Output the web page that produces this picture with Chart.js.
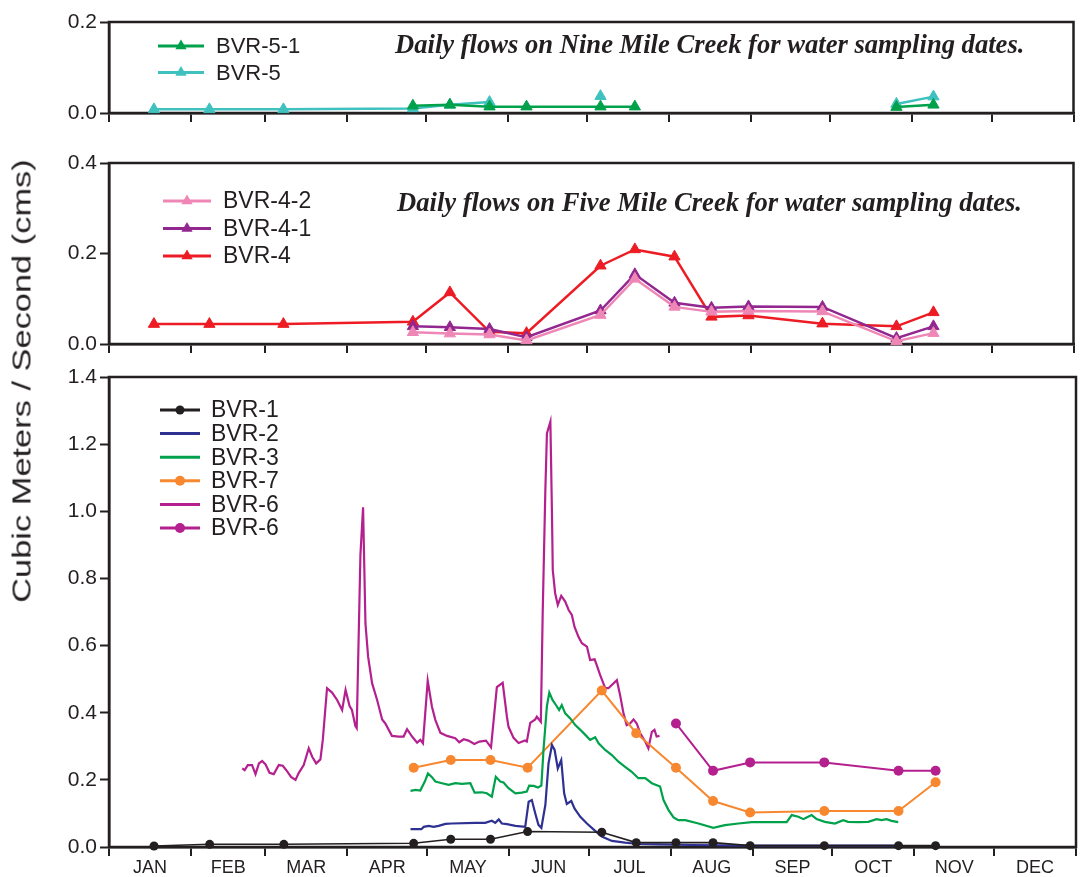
<!DOCTYPE html>
<html>
<head>
<meta charset="utf-8">
<script src="https://cdn.jsdelivr.net/npm/chart.js@4.4.1/dist/chart.umd.min.js"></script>
<style>
  body { margin: 0; background: #fff; width: 1081px; height: 877px; overflow: hidden; position: relative; font-family: "Liberation Sans", Arial, sans-serif; }
  canvas { position: absolute; left: 0; }
  #yTitle { position: absolute; left: 22px; top: 381px; font-size: 25px; color: #231f20; white-space: nowrap; }
</style>
</head>
<body>
<canvas id="nineMile" width="1081" height="140" style="top:0"></canvas>
<canvas id="fiveMile" width="1081" height="220" style="top:140px"></canvas>
<canvas id="mainCreek" width="1081" height="517" style="top:360px"></canvas>
<div id="yTitle">Cubic Meters / Second (cms)</div>
<script>
// month axis (day of year)
const months = ['JAN', 'FEB', 'MAR', 'APR', 'MAY', 'JUN', 'JUL', 'AUG', 'SEP', 'OCT', 'NOV', 'DEC'];
const monthStarts = [0, 31, 59, 90, 120, 151, 181, 212, 243, 273, 304, 334, 365];

// sampling dates, day of year
const sampleDays = [17, 38, 66, 115, 129, 144, 158, 186, 199, 214, 228, 242, 270, 298, 312];

// Nine Mile Creek
const bvr5_1 = [null, null, null, 0.016, 0.018, 0.014, 0.014, 0.014, 0.014, null, null, null, null, 0.013, 0.018];
const bvr5   = [0.008, 0.008, 0.008, 0.010, 0.018, 0.024, null, 0.037, null, null, null, null, null, 0.020, 0.036];

// Five Mile Creek
const bvr4_2 = [null, null, null, 0.026, 0.023, 0.021, 0.008, 0.064, 0.144, 0.082, 0.071, 0.073, 0.072, 0.006, 0.024];
const bvr4_1 = [null, null, null, 0.039, 0.037, 0.033, 0.015, 0.074, 0.154, 0.091, 0.080, 0.083, 0.082, 0.013, 0.039];
const bvr4   = [0.044, 0.044, 0.044, 0.049, 0.114, 0.027, 0.024, 0.173, 0.209, 0.193, 0.060, 0.063, 0.045, 0.039, 0.070];

// bottom panel, sampled
const bvr1  = [0.003, 0.008, 0.008, 0.011, 0.023, 0.023, 0.046, 0.044, 0.013, 0.013, 0.013, 0.004, 0.004, 0.004, 0.004];
const bvr7  = [null, null, null, 0.236, 0.259, 0.259, 0.236, 0.466, 0.339, 0.236, 0.137, 0.103, 0.107, 0.107, 0.193];
const bvr6s = [null, null, null, null, null, null, null, null, null, 0.368, 0.227, 0.252, 0.252, 0.227, 0.227];

// bottom panel, daily records
const bvr2Days = [113.8, 117.9, 118.8, 120.7, 122.5, 124.4, 127.0, 129.4, 138.3, 142.0, 144.5, 145.8, 147.1, 148.3, 150.2, 153.4, 157.1, 158.4, 159.6, 160.9, 162.1, 163.2, 164.7, 165.9, 167.2, 168.2, 169.4, 170.7, 171.8, 172.8, 174.5, 175.7, 177.9, 180.4, 183.5, 186.0, 189.8, 194.8, 199.8, 207.4, 219.9, 245.1, 270.2, 297.9];
const bvr2Flow = [0.053, 0.053, 0.060, 0.063, 0.060, 0.063, 0.069, 0.070, 0.072, 0.072, 0.078, 0.072, 0.082, 0.070, 0.068, 0.063, 0.060, 0.135, 0.140, 0.100, 0.066, 0.057, 0.125, 0.249, 0.304, 0.289, 0.234, 0.259, 0.160, 0.128, 0.137, 0.115, 0.090, 0.070, 0.048, 0.031, 0.018, 0.013, 0.009, 0.008, 0.006, 0.004, 0.004, 0.004];

const bvr3Days = [113.8, 115.7, 117.5, 119.2, 120.4, 121.9, 123.2, 125.7, 128.2, 130.7, 133.2, 136.4, 138.0, 140.8, 142.6, 144.5, 146.0, 147.7, 148.9, 150.8, 153.4, 155.8, 157.7, 158.6, 160.3, 161.9, 163.2, 164.0, 165.3, 166.2, 167.4, 168.7, 169.9, 170.9, 172.2, 174.1, 176.0, 177.9, 179.8, 181.6, 183.5, 184.8, 187.3, 189.8, 192.3, 194.8, 197.3, 199.8, 202.4, 204.9, 208.0, 209.3, 211.2, 213.1, 214.9, 217.5, 222.5, 228.1, 232.5, 237.6, 242.6, 247.6, 252.6, 255.8, 257.7, 260.2, 262.1, 263.3, 265.2, 267.1, 270.2, 274.0, 277.1, 279.0, 282.8, 286.6, 289.7, 291.6, 293.5, 295.4, 297.9];
const bvr3Flow = [0.167, 0.170, 0.168, 0.195, 0.219, 0.208, 0.195, 0.190, 0.185, 0.190, 0.188, 0.190, 0.162, 0.163, 0.160, 0.150, 0.209, 0.195, 0.192, 0.175, 0.160, 0.162, 0.165, 0.183, 0.182, 0.177, 0.183, 0.289, 0.420, 0.460, 0.438, 0.423, 0.408, 0.423, 0.398, 0.383, 0.363, 0.349, 0.334, 0.319, 0.327, 0.309, 0.289, 0.274, 0.254, 0.239, 0.224, 0.205, 0.205, 0.190, 0.180, 0.140, 0.110, 0.088, 0.080, 0.080, 0.070, 0.057, 0.065, 0.070, 0.074, 0.074, 0.074, 0.074, 0.095, 0.090, 0.083, 0.088, 0.095, 0.083, 0.075, 0.070, 0.080, 0.075, 0.074, 0.075, 0.083, 0.080, 0.083, 0.078, 0.074];

const bvr6Days = [50.3, 51.2, 52.4, 54.0, 55.3, 56.6, 57.8, 59.1, 60.6, 62.2, 64.1, 65.6, 67.2, 68.7, 70.4, 71.6, 73.5, 75.4, 76.7, 78.2, 79.8, 80.7, 82.3, 84.2, 86.1, 88.0, 89.3, 90.8, 91.7, 93.0, 93.5, 94.9, 95.9, 96.8, 97.8, 99.3, 101.2, 103.1, 104.3, 106.8, 109.4, 111.2, 112.5, 114.4, 116.3, 117.5, 118.5, 120.3, 121.9, 123.2, 125.1, 127.6, 130.7, 132.2, 133.9, 135.7, 137.9, 139.8, 142.3, 144.2, 146.4, 148.6, 150.2, 150.8, 152.7, 154.6, 157.0, 157.7, 159.0, 160.9, 161.5, 163.0, 163.7, 164.7, 165.3, 166.6, 167.2, 167.5, 168.4, 169.4, 170.7, 172.2, 173.5, 174.7, 175.7, 177.2, 178.5, 180.4, 181.6, 183.3, 184.1, 185.4, 187.3, 188.5, 191.7, 192.9, 194.2, 195.4, 196.7, 198.0, 199.2, 200.5, 202.4, 203.6, 204.9, 205.9, 206.7, 207.8];
const bvr6Flow = [0.234, 0.229, 0.244, 0.244, 0.217, 0.249, 0.256, 0.246, 0.221, 0.217, 0.244, 0.242, 0.226, 0.209, 0.200, 0.220, 0.244, 0.294, 0.269, 0.249, 0.261, 0.319, 0.473, 0.460, 0.438, 0.408, 0.468, 0.420, 0.408, 0.360, 0.354, 0.870, 1.012, 0.666, 0.567, 0.488, 0.438, 0.380, 0.368, 0.331, 0.329, 0.329, 0.351, 0.329, 0.311, 0.319, 0.309, 0.495, 0.418, 0.378, 0.340, 0.331, 0.324, 0.312, 0.321, 0.317, 0.307, 0.314, 0.317, 0.297, 0.476, 0.489, 0.388, 0.358, 0.325, 0.310, 0.317, 0.314, 0.370, 0.380, 0.388, 0.373, 0.696, 1.063, 1.232, 1.267, 0.994, 0.825, 0.756, 0.721, 0.748, 0.731, 0.706, 0.691, 0.656, 0.626, 0.607, 0.597, 0.557, 0.559, 0.542, 0.512, 0.473, 0.473, 0.497, 0.453, 0.398, 0.363, 0.368, 0.380, 0.368, 0.339, 0.314, 0.294, 0.343, 0.349, 0.329, 0.331];

const ink = '#231f20';
const sans = '"Liberation Sans", Arial, sans-serif';
const noteFont = 'italic bold 26.6px "Liberation Serif", "Times New Roman", serif';

const monthMids = months.map((m, i) => (monthStarts[i] + monthStarts[i + 1]) / 2);
const xTickValues = monthStarts.concat(monthMids).sort((a, b) => a - b);

const sampled = arr => sampleDays.map((d, i) => ({ x: d, y: arr[i] }));
const daily = (days, flow) => days.map((d, i) => ({ x: d, y: flow[i] }));

// box round the plot area
const frame = {
  id: 'frame',
  beforeDatasetsDraw(chart) {
    const a = chart.chartArea, ctx = chart.ctx;
    ctx.save();
    ctx.strokeStyle = ink;
    ctx.lineWidth = 2.5;
    ctx.strokeRect(a.left, a.top, a.right - a.left, a.bottom - a.top);
    ctx.restore();
  }
};

function drawMarker(ctx, style, x, y, r) {
  ctx.beginPath();
  if (style === 'triangle') {
    ctx.moveTo(x, y - r);
    ctx.lineTo(x + r * 0.866, y + r * 0.5);
    ctx.lineTo(x - r * 0.866, y + r * 0.5);
    ctx.closePath();
  } else {
    ctx.arc(x, y, r, 0, Math.PI * 2);
  }
  ctx.fill();
}

// legend stacked inside the plot, top left
const insideLegend = {
  id: 'insideLegend',
  afterDatasetsDraw(chart, args, opts) {
    const ctx = chart.ctx;
    ctx.save();
    ctx.font = opts.font;
    ctx.textBaseline = 'middle';
    chart.data.datasets.forEach((ds, i) => {
      const y = opts.y + i * opts.rowGap;
      ctx.strokeStyle = ds.borderColor;
      ctx.fillStyle = ds.borderColor;
      ctx.lineWidth = opts.lineWidth;
      ctx.beginPath();
      ctx.moveTo(opts.x, y);
      ctx.lineTo(opts.x + opts.len, y);
      ctx.stroke();
      if (ds.pointRadius > 0) drawMarker(ctx, ds.pointStyle, opts.x + opts.len / 2, y, ds.pointRadius);
      ctx.fillStyle = ink;
      ctx.fillText(ds.label, opts.textX, y + 1);
    });
    ctx.restore();
  }
};

// italic caption inside the plot
const panelNote = {
  id: 'panelNote',
  afterDatasetsDraw(chart, args, opts) {
    if (!opts.text) return;
    const ctx = chart.ctx;
    ctx.save();
    ctx.font = opts.font;
    ctx.fillStyle = ink;
    ctx.textBaseline = 'alphabetic';
    ctx.fillText(opts.text, opts.x, opts.y);
    ctx.restore();
  }
};

function panel(id, cfg) {
  return new Chart(document.getElementById(id), {
    type: 'line',
    data: { datasets: cfg.datasets },
    options: {
      responsive: false,
      animation: false,
      events: [],
      layout: { padding: { top: cfg.plotTop, right: 3, left: 0, bottom: 0 } },
      plugins: {
        legend: { display: false },
        tooltip: { enabled: false },
        insideLegend: cfg.legend,
        panelNote: cfg.note || {}
      },
      scales: {
        x: {
          type: 'linear',
          min: 0,
          max: 365,
          afterBuildTicks: s => { s.ticks = xTickValues.map(v => ({ value: v })); },
          afterFit: s => { s.height = cfg.axisHeight; },
          ticks: {
            display: cfg.showMonths,
            autoSkip: false,
            maxRotation: 0,
            padding: 1,
            color: ink,
            font: { family: sans, size: 18 },
            callback: v => { const k = monthMids.indexOf(v); return k >= 0 ? months[k] : ''; }
          },
          grid: {
            drawOnChartArea: false,
            tickLength: 9,
            tickWidth: 2,
            lineWidth: 2,
            tickColor: c => monthStarts.includes(c.tick && c.tick.value) ? ink : 'rgba(0,0,0,0)',
            color: 'rgba(0,0,0,0)'
          },
          border: { color: ink, width: 2.5 }
        },
        y: {
          min: 0,
          max: cfg.yMax,
          afterFit: s => { s.width = 109; },
          ticks: {
            stepSize: 0.2,
            padding: 3,
            color: ink,
            font: { family: sans, size: 21 },
            callback: v => v.toFixed(1)
          },
          grid: { drawOnChartArea: false, tickLength: 9, tickWidth: 2, tickColor: ink, color: ink },
          border: { color: ink, width: 2.5 }
        }
      }
    },
    plugins: [frame, insideLegend, panelNote]
  });
}

const tri = (label, color, arr) => ({
  label, data: sampled(arr), borderColor: color, backgroundColor: color,
  pointBackgroundColor: color, pointBorderColor: color, pointBorderWidth: 1,
  borderWidth: 2.5, pointStyle: 'triangle', pointRadius: 6.5, tension: 0, spanGaps: false, clip: false
});

panel('nineMile', {
  plotTop: 22, axisHeight: 27, yMax: 0.2, showMonths: false,
  legend: { x: 158, len: 46, textX: 216, y: 46, rowGap: 26.5, lineWidth: 3, font: '22px ' + sans },
  note: { text: 'Daily flows on Nine Mile Creek for water sampling dates.', x: 395, y: 53, font: noteFont },
  datasets: [
    tri('BVR-5-1', '#00a14b', bvr5_1),
    tri('BVR-5', '#3fc1bf', bvr5)
  ]
});

panel('fiveMile', {
  plotTop: 23, axisHeight: 16, yMax: 0.4, showMonths: false,
  legend: { x: 163, len: 48, textX: 223, y: 61, rowGap: 27.5, lineWidth: 3, font: '23px ' + sans },
  note: { text: 'Daily flows on Five Mile Creek for water sampling dates.', x: 397, y: 71, font: noteFont },
  datasets: [
    tri('BVR-4-2', '#ef87b6', bvr4_2),
    tri('BVR-4-1', '#92278f', bvr4_1),
    tri('BVR-4', '#ed1c24', bvr4)
  ]
});

const dots = (label, color, arr, r, w) => ({
  label, data: sampled(arr), borderColor: color, backgroundColor: color,
  pointBackgroundColor: color, pointBorderColor: color, pointBorderWidth: 0,
  borderWidth: w, pointStyle: 'circle', pointRadius: r, tension: 0, spanGaps: false, clip: false
});
const plain = (label, color, days, flow) => ({
  label, data: daily(days, flow), borderColor: color, backgroundColor: color,
  borderWidth: 2.2, pointRadius: 0, tension: 0, clip: false
});

panel('mainCreek', {
  plotTop: 17, axisHeight: 30, yMax: 1.4, showMonths: true,
  legend: { x: 160, len: 40, textX: 211, y: 50, rowGap: 23.6, lineWidth: 3, font: '23px ' + sans },
  datasets: [
    dots('BVR-1', '#231f20', bvr1, 4.5, 1.6),
    plain('BVR-2', '#2e3192', bvr2Days, bvr2Flow),
    plain('BVR-3', '#00a14b', bvr3Days, bvr3Flow),
    dots('BVR-7', '#f7882f', bvr7, 5, 2),
    plain('BVR-6', '#b4218f', bvr6Days, bvr6Flow),
    dots('BVR-6', '#b4218f', bvr6s, 5, 2)
  ]
});

// rotated shared axis title, stretched along its length like the original
const yt = document.getElementById('yTitle');
const k = 443 / yt.offsetWidth;
yt.style.transform = 'translate(-50%, -50%) rotate(-90deg) scaleX(' + k.toFixed(3) + ')';
</script>
</body>
</html>
